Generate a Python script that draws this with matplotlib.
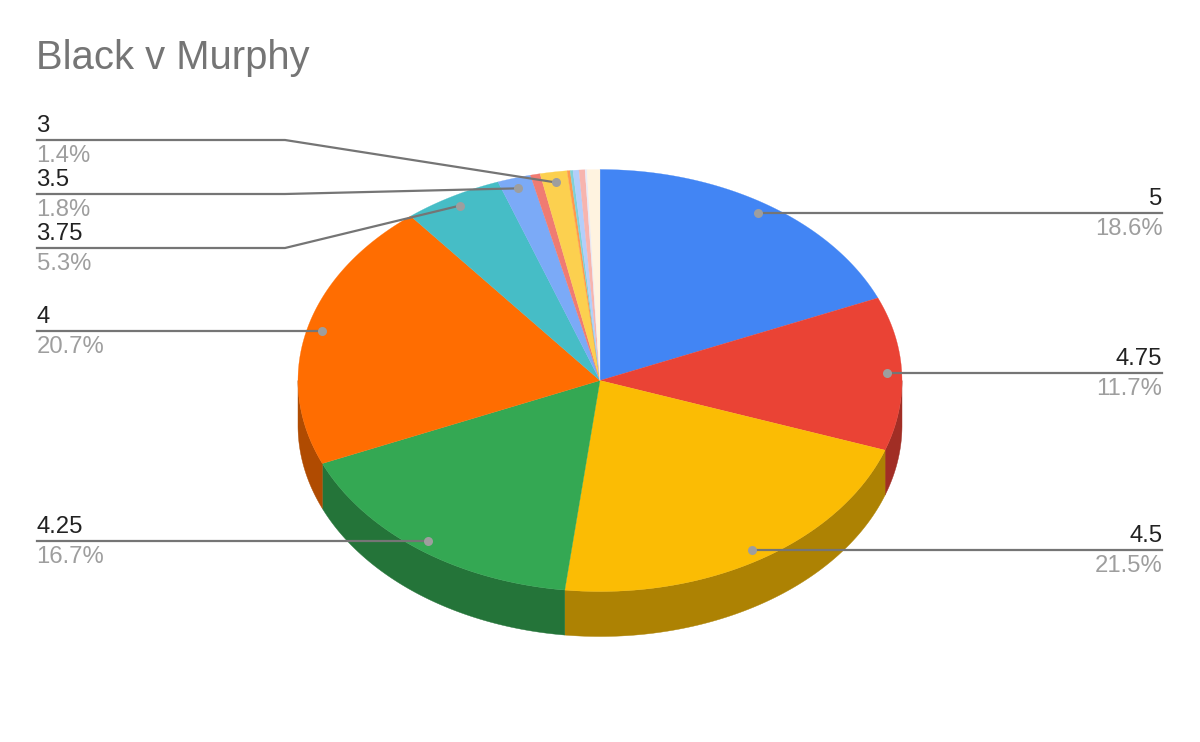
import numpy as np
import matplotlib
matplotlib.use("Agg")
import matplotlib.pyplot as plt
from matplotlib.patches import Polygon

plt.rcParams['font.family'] = ['Liberation Sans', 'DejaVu Sans']

title = "Black v Murphy"
categories = ["5", "4.75", "4.5", "4.25", "4", "3.75", "3.5", "s1", "3", "s2", "s3", "s4", "s5", "s6", "s7"]
values = [18.6, 11.75, 21.5, 16.7, 20.65, 5.3, 1.78, 0.52, 1.44, 0.16, 0.15, 0.32, 0.32, 0.1, 0.69]
pct_labels = ["18.6%", "11.7%", "21.5%", "16.7%", "20.7%", "5.3%", "1.8%", "", "1.4%", "", "", "", "", "", ""]
colors = ["#4285F4", "#EA4335", "#FBBC04", "#34A853", "#FF6D01", "#46BDC6", "#7BAAF7", "#F07B72",
          "#FCD04F", "#FF994D", "#7ED1D7", "#B3CEFB", "#F7B4AE", "#E8EAF6", "#FFF3E0"]
label_y_px = {"5": 213, "4.75": 373, "4.5": 550, "4.25": 541, "4": 331, "3.75": 248, "3.5": 194, "3": 140}

W, H = 1200, 742
CX, CY, RX, RY, DEPTH = 600, 380.5, 302, 211, 45

fig = plt.figure(figsize=(W / 100, H / 100), dpi=100, facecolor="white")
ax = fig.add_axes([0, 0, 1, 1])
ax.set_xlim(0, W)
ax.set_ylim(H, 0)
ax.axis("off")

fracs = np.array(values) / sum(values)
edges = np.concatenate([[0], np.cumsum(fracs)]) * 2 * np.pi


def px(theta, r=1.0, dy=0):
    return CX + RX * r * np.sin(theta), CY - RY * r * np.cos(theta) + dy


def darken(c, f=0.69):
    rgb = np.array(matplotlib.colors.to_rgb(c))
    return tuple(rgb * f)


# side wall
for i, c in enumerate(colors):
    a, b = max(edges[i], np.pi / 2), min(edges[i + 1], 3 * np.pi / 2)
    if b <= a:
        continue
    t = np.linspace(a, b, 80)
    xs, ys = px(t)
    pts = np.column_stack([np.r_[xs, xs[::-1]], np.r_[ys, ys[::-1] + DEPTH]])
    ax.add_patch(Polygon(pts, closed=True, fc=darken(c), ec=darken(c), lw=0.3, zorder=1))

# top face
for i, c in enumerate(colors):
    t = np.linspace(edges[i], edges[i + 1], max(4, int(fracs[i] * 600)))
    xs, ys = px(t)
    pts = np.column_stack([np.r_[CX, xs], np.r_[CY, ys]])
    ax.add_patch(Polygon(pts, closed=True, fc=c, ec=c, lw=0.2, zorder=2))

# leaders and labels
LINE = "#757575"
for i, cat in enumerate(categories):
    if cat not in label_y_px:
        continue
    mid = (edges[i] + edges[i + 1]) / 2
    dx, dy = px(mid, 0.95)
    ly = label_y_px[cat]
    if abs(dy - ly) < 3:
        dy = ly
    if np.sin(mid) > 0:
        xs, ha, tx = [dx, 1162], "right", 1162.5
        ys = [ly, ly]
    else:
        xs, ha, tx = [dx, 285, 37], "left", 36.5
        ys = [dy, ly, ly]
    ax.plot(xs, ys, color=LINE, lw=1.6, zorder=3, solid_joinstyle="round")
    ax.plot([dx], [dy], "o", ms=6.5, color="#9E9E9E", mec="none", zorder=4)
    ax.text(tx, ly - 8, cat, ha=ha, va="baseline", fontsize=17.2, color="#222222", zorder=5)
    ax.text(tx, ly + 22, pct_labels[i], ha=ha, va="baseline", fontsize=17.2, color="#9E9E9E", zorder=5)

ax.text(36.5, 69, title, ha="left", va="baseline", fontsize=28.8, color="#757575")

fig.savefig("out.png", dpi=100, facecolor="white")
